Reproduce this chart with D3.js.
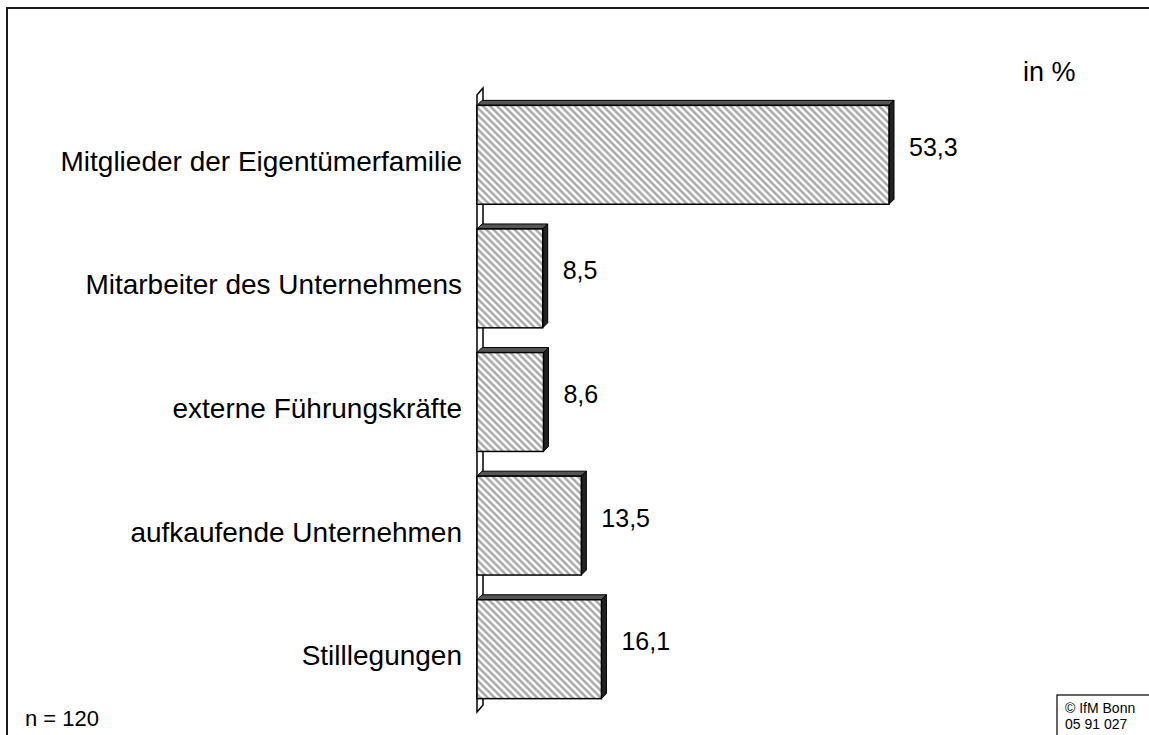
<!DOCTYPE html>
<html>
<head>
<meta charset="utf-8">
<script src="https://cdn.jsdelivr.net/npm/d3@7"></script>
<style>
  body { margin: 0; background: #fff; }
  text { font-family: "Liberation Sans", Arial, sans-serif; fill: #000; }
</style>
</head>
<body>
<script>
var categories = ["Mitglieder der Eigentümerfamilie", "Mitarbeiter des Unternehmens",
                  "externe Führungskräfte", "aufkaufende Unternehmen", "Stilllegungen"];
var values = [53.3, 8.5, 8.6, 13.5, 16.1];
var valueLabels = ["53,3", "8,5", "8,6", "13,5", "16,1"];
var unitLabel = "in %";
var sampleLabel = "n = 120";
var sourceLines = ["© IfM Bonn", "05 91 027"];

var W = 1149, H = 735;
var svg = d3.select("body").append("svg").attr("width", W).attr("height", H);

// hatch fill
var defs = svg.append("defs");
defs.append("pattern")
  .attr("id", "hatch")
  .attr("patternUnits", "userSpaceOnUse")
  .attr("width", 5).attr("height", 5)
  .attr("patternTransform", "rotate(-45)")
  .call(function(p) {
    p.append("rect").attr("width", 5).attr("height", 5).attr("fill", "#fff");
    p.append("line").attr("x1", 1.5).attr("y1", 0).attr("x2", 1.5).attr("y2", 5)
      .attr("stroke", "#a0a0a0").attr("stroke-width", 2.3);
  });

// outer frame
svg.append("rect").attr("x", 7).attr("y", 8).attr("width", 1300).attr("height", 900)
  .attr("fill", "none").attr("stroke", "#1a1a1a").attr("stroke-width", 2);

var x = d3.scaleLinear().domain([0, 53.3]).range([477, 889]);
var y = d3.scaleBand().domain(categories).range([93, 711]).paddingInner(0.2).paddingOuter(0.1);

var dx = 6, dy = -7;   // wall depth
var bx = 5, by = -5;   // bar depth

// axis wall
var x0 = x(0), yTop = 95, yBot = 712;
svg.append("path")
  .attr("d", "M" + x0 + "," + yTop + "L" + (x0 + dx) + "," + (yTop + dy) +
             "L" + (x0 + dx) + "," + (yBot + dy) + "L" + x0 + "," + yBot + "Z")
  .attr("fill", "#fff").attr("stroke", "#000").attr("stroke-width", 1.5);

var bars = svg.append("g").selectAll("g").data(categories).enter().append("g");

bars.each(function(c, i) {
  var g = d3.select(this);
  var x1 = x(values[i]), t = y(c), b = t + y.bandwidth();
  // top face
  g.append("path")
    .attr("d", "M" + x0 + "," + t + "L" + (x0 + bx) + "," + (t + by) + "L" + (x1 + bx) + "," + (t + by) + "L" + x1 + "," + t + "Z")
    .attr("fill", "#555").attr("stroke", "#000").attr("stroke-width", 1);
  // side face
  g.append("path")
    .attr("d", "M" + x1 + "," + t + "L" + (x1 + bx) + "," + (t + by) + "L" + (x1 + bx) + "," + (b + by) + "L" + x1 + "," + b + "Z")
    .attr("fill", "#222").attr("stroke", "#000").attr("stroke-width", 1);
  // front face
  g.append("rect").attr("x", x0).attr("y", t).attr("width", x1 - x0).attr("height", b - t)
    .attr("fill", "url(#hatch)").attr("stroke", "#000").attr("stroke-width", 1.5);
  // value label
  g.append("text").attr("x", x1 + 20).attr("y", (t + b) / 2 + 1)
    .attr("font-size", 25).text(valueLabels[i]);
});

// category labels
svg.append("g").selectAll("text").data(categories).enter().append("text")
  .attr("x", 462)
  .attr("y", function(d) { return y(d) + y.bandwidth() / 2 + 16; })
  .attr("text-anchor", "end")
  .attr("font-size", 28)
  .text(function(d) { return d; });

svg.append("text").attr("x", 1023).attr("y", 81).attr("font-size", 27).text(unitLabel);
svg.append("text").attr("x", 25).attr("y", 726).attr("font-size", 22).text(sampleLabel);

// source box
svg.append("rect").attr("x", 1057).attr("y", 695).attr("width", 120).attr("height", 60)
  .attr("fill", "#fff").attr("stroke", "#000").attr("stroke-width", 1.2);
svg.append("g").selectAll("text").data(sourceLines).enter().append("text")
  .attr("x", 1065).attr("y", function(d, i) { return 713 + i * 16; })
  .attr("font-size", 14).text(function(d) { return d; });
</script>
</body>
</html>
